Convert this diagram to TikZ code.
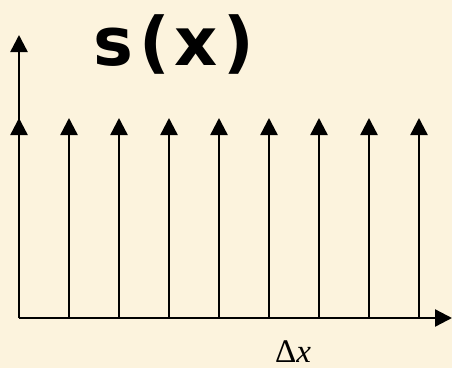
\documentclass[tikz,border=0pt]{standalone}
\usepackage{fontspec}
\setmainfont{Liberation Serif}
\newfontfamily\labelsans{DejaVu Sans}
\usetikzlibrary{arrows.meta, positioning}
\definecolor{parchment}{RGB}{252,243,221}

\begin{document}
\begin{tikzpicture}[
  x=1pt, y=1pt,
  axis/.style={line width=2.4pt, -{Triangle[length=17pt,width=17pt]}},
  spike/.style={line width=2.4pt, -{Triangle[length=17pt,width=17pt]}},
  title/.style={font=\labelsans\bfseries\fontsize{67}{76}\selectfont, inner sep=0pt, anchor=base},
  lbl/.style={font=\fontsize{33}{36}\selectfont, inner sep=0pt, anchor=base}
]
\fill[parchment] (0,0) rectangle (452,368);
\useasboundingbox (0,0) rectangle (452,368);

\coordinate (o) at (19,50);
\coordinate (xend) at (452,50);
\coordinate (yend) at (19,333);
\draw[axis] (o)--(xend); \draw[axis] (o)--(yend);

\foreach \i in {0,...,8} {
  \coordinate (b\i) at (19+50*\i,50);
  \coordinate (t\i) at (19+50*\i,250);
  \draw[spike] (b\i)--(t\i);
}

\node[title] (sx) at (174,303) {s\kern6pt(\kern5pt x\kern6pt)};
\node[lbl] (dx) at (293,6) {Δ\textit{x}};
\end{tikzpicture}
\end{document}
